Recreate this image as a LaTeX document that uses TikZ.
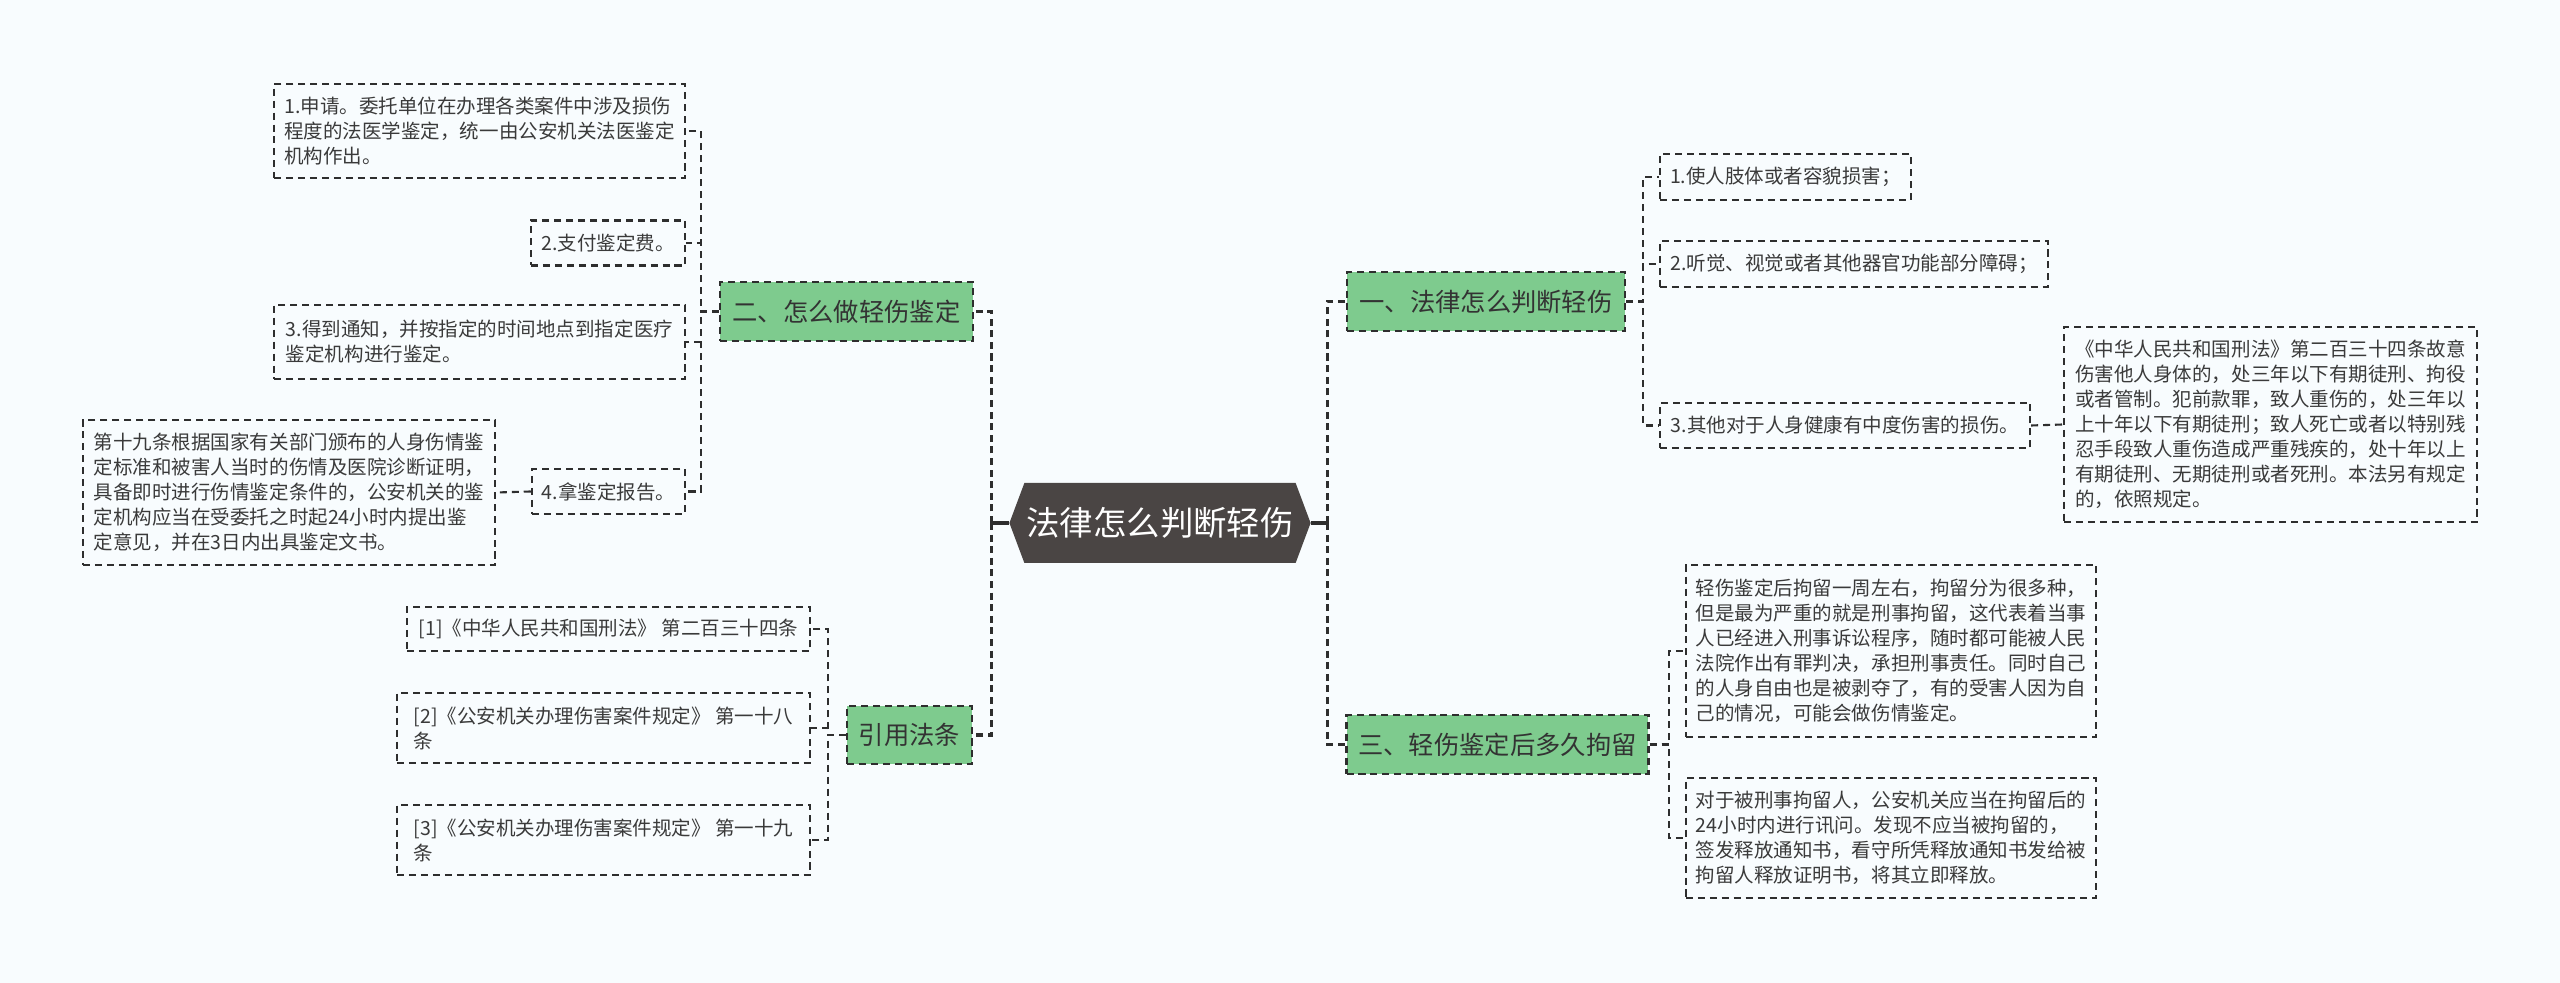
\documentclass[tikz,border=0pt]{standalone}
\usepackage{fontspec}
\usepackage{xcolor}
\usepackage{tikz}
\usetikzlibrary{shapes.symbols, positioning, calc}
\setmainfont{Noto Sans CJK SC}
\definecolor{mapbg}{HTML}{F8FCFE}
\definecolor{mapgreen}{HTML}{7ECB8E}
\definecolor{mapdark}{HTML}{4A4544}
\definecolor{mapline}{HTML}{2E2E2E}
\definecolor{maptext}{HTML}{3A3A3A}
\newlength{\px}
\setlength{\px}{0.01cm}

\begin{document}
\begin{tikzpicture}[
    x=0.01cm, y=-0.01cm,
    wh/.style 2 args={minimum width=#1\px, minimum height=#2\px},
    leaf/.style={rectangle, draw=mapline, line width=0.6pt, dash pattern=on 2pt off 1.4pt,
                 align=left, inner xsep=10\px, text=maptext,
                 font=\fontsize{5.55pt}{7.1pt}\selectfont},
    topic/.style={rectangle, draw=mapline, fill=mapgreen, line width=0.7pt,
                  dash pattern=on 2pt off 1.4pt, text=black!80,
                  font=\fontsize{7.2pt}{8.6pt}\selectfont},
    hub/.style={signal, signal to=west and east, signal pointer angle=139, fill=mapdark,
                text=white, inner xsep=2\px, font=\fontsize{9.5pt}{11pt}\selectfont},
    link/.style={draw=mapline, line width=0.6pt, dash pattern=on 2pt off 1.4pt},
    mainlink/.style={draw=mapline, line width=0.9pt, dash pattern=on 2pt off 1.3pt},
    stub/.style={draw=mapline, line width=0.9pt}
]
\fill[mapbg] (0,0) rectangle (2560,983);
\useasboundingbox (0,0) rectangle (2560,983);

% centre
\node[hub, wh={272}{80}] (hub) at (1160,523) {法律怎么判断轻伤};

% left branches
\node[topic, wh={253}{59}] (how)  at (846.5,311.5) {二、怎么做轻伤鉴定};
\node[topic, wh={125}{58}] (cite) at (909.5,735)   {引用法条};

\node[leaf, wh={411}{94}]  (h1)  at (479.5,131)   {1.申请。委托单位在办理各类案件中涉及损伤\\程度的法医学鉴定，统一由公安机关法医鉴定\\机构作出。};
\node[leaf, wh={154}{45}]  (h2)  at (608,243)     {2.支付鉴定费。};
\node[leaf, wh={411}{74}]  (h3)  at (479.5,342)   {3.得到通知，并按指定的时间地点到指定医疗\\鉴定机构进行鉴定。};
\node[leaf, wh={153}{45}]  (h4)  at (608.5,491.5) {4.拿鉴定报告。};
\node[leaf, wh={412}{145}] (h4a) at (289,492.5)   {第十九条根据国家有关部门颁布的人身伤情鉴\\定标准和被害人当时的伤情及医院诊断证明，\\具备即时进行伤情鉴定条件的，公安机关的鉴\\定机构应当在受委托之时起24小时内提出鉴\\定意见，并在3日内出具鉴定文书。};

\node[leaf, wh={403}{44}] (c1) at (608.5,629) {[1]《中华人民共和国刑法》 第二百三十四条};
\node[leaf, wh={413}{70}] (c2) at (603.5,728) {[2]《公安机关办理伤害案件规定》 第一十八\\条};
\node[leaf, wh={413}{70}] (c3) at (603.5,840) {[3]《公安机关办理伤害案件规定》 第一十九\\条};

% right branches
\node[topic, wh={278}{59}] (judge) at (1486,301.5)  {一、法律怎么判断轻伤};
\node[topic, wh={301}{59}] (hold)  at (1497.5,744.5) {三、轻伤鉴定后多久拘留};

\node[leaf, wh={251}{46}]  (j1)  at (1785.5,177) {1.使人肢体或者容貌损害；};
\node[leaf, wh={388}{46}]  (j2)  at (1854,264)   {2.听觉、视觉或者其他器官功能部分障碍；};
\node[leaf, wh={370}{45}]  (j3)  at (1845,425.5) {3.其他对于人身健康有中度伤害的损伤。};
\node[leaf, wh={413}{195}] (j3a) at (2270.5,424.5) {《中华人民共和国刑法》第二百三十四条故意\\伤害他人身体的，处三年以下有期徒刑、拘役\\或者管制。犯前款罪，致人重伤的，处三年以\\上十年以下有期徒刑；致人死亡或者以特别残\\忍手段致人重伤造成严重残疾的，处十年以上\\有期徒刑、无期徒刑或者死刑。本法另有规定\\的，依照规定。};

\node[leaf, wh={410}{172}] (k1) at (1891,651) {轻伤鉴定后拘留一周左右，拘留分为很多种，\\但是最为严重的就是刑事拘留，这代表着当事\\人已经进入刑事诉讼程序，随时都可能被人民\\法院作出有罪判决，承担刑事责任。同时自己\\的人身自由也是被剥夺了，有的受害人因为自\\己的情况，可能会做伤情鉴定。};
\node[leaf, wh={410}{120}] (k2) at (1891,838) {对于被刑事拘留人，公安机关应当在拘留后的\\24小时内进行讯问。发现不应当被拘留的，\\签发释放通知书，看守所凭释放通知书发给被\\拘留人释放证明书，将其立即释放。};

% connectors from the centre
\draw[stub] (hub.west) -- ++(-17,0) coordinate (lbus);
\draw[stub] (hub.east) -- ++(16,0) coordinate (rbus);
\draw[mainlink] (lbus) |- (how.east);
\draw[mainlink] (lbus) |- (cite.east);
\draw[mainlink] (rbus) |- (judge.west);
\draw[mainlink] (rbus) |- (hold.west);

% connectors to the leaves
\foreach \n in {h1,h2,h3,h4} \draw[link] (how.west) -- ++(-18,0) |- (\n.east);
\draw[link] (h4.west) -- (h4a.east);
\foreach \n in {c1,c2,c3} \draw[link] (cite.west) -- ++(-18,0) |- (\n.east);
\foreach \n in {j1,j2,j3} \draw[link] (judge.east) -- ++(17,0) |- (\n.west);
\draw[link] (j3.east) -- (j3a.west);
\foreach \n in {k1,k2} \draw[link] (hold.east) -- ++(19,0) |- (\n.west);
\end{tikzpicture}
\end{document}
